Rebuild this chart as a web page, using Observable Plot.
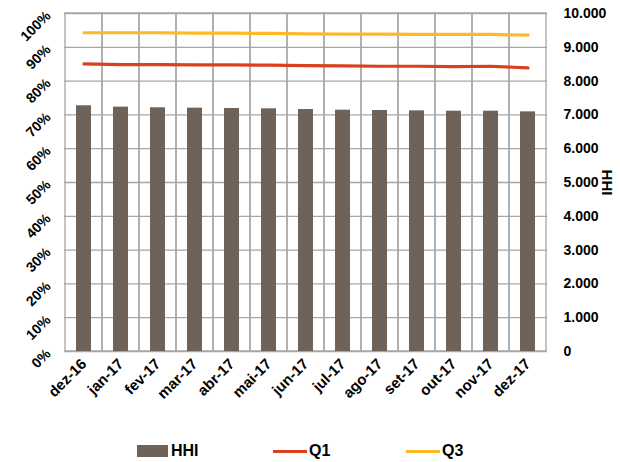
<!DOCTYPE html>
<html>
<head>
<meta charset="utf-8">
<script src="https://cdn.jsdelivr.net/npm/d3@7"></script>
<script src="https://cdn.jsdelivr.net/npm/@observablehq/plot@0.6"></script>
<style>
  body { margin: 0; background: #fff; font-family: "Liberation Sans", Arial, sans-serif; }
  #chart { width: 620px; height: 462px; position: relative; }
  .legend { position: absolute; top: 440px; left: 0; width: 620px; height: 22px; font-weight: bold; font-size: 16px; color: #000; }
  .legend .item { position: absolute; top: 0; display: flex; align-items: center; height: 22px; }
  .legend .sw { display: inline-block; margin-right: 3px; }
</style>
</head>
<body>
<div id="chart"></div>
<script>
const months = ["dez-16","jan-17","fev-17","mar-17","abr-17","mai-17","jun-17","jul-17","ago-17","set-17","out-17","nov-17","dez-17"];
const hhi = [7270, 7230, 7210, 7200, 7190, 7180, 7160, 7140, 7130, 7120, 7110, 7110, 7090];
const q1 = [85.1, 84.9, 84.9, 84.8, 84.8, 84.7, 84.6, 84.5, 84.4, 84.4, 84.3, 84.4, 83.9];
const q3 = [94.3, 94.3, 94.3, 94.2, 94.2, 94.1, 94.0, 93.9, 93.9, 93.8, 93.8, 93.8, 93.6];
const pctTicks = [0,10,20,30,40,50,60,70,80,90,100];
const hhiTicks = [0,1000,2000,3000,4000,5000,6000,7000,8000,9000,10000];

const colors = { HHI: "#6e6259", Q1: "#d9411e", Q3: "#fdb927" };
const gridColor = "#a6a6a6";

const rows = months.map((m, i) => ({ m, hhi: hhi[i], q1: q1[i], q3: q3[i] }));
const fmtHHI = d => d3.format(",")(d).replace(/,/g, ".");

const plot = Plot.plot({
  width: 620,
  height: 440,
  marginLeft: 64,
  marginRight: 73,
  marginTop: 13,
  marginBottom: 89,
  style: { fontFamily: "'Liberation Sans', Arial, sans-serif", fontWeight: "bold", fontSize: "14px", color: "#000" },
  x: { domain: months, padding: 0 },
  y: { domain: [0, 100] },
  marks: [
    Plot.ruleY(pctTicks, { stroke: gridColor, strokeWidth: 1.3 }),
    Plot.barY(months, { x: d => d, y1: 0, y2: 100, fill: "none", stroke: gridColor, strokeWidth: 1.3 }),
    Plot.barY(rows, { x: "m", y: d => d.hhi / 100, fill: colors.HHI, insetLeft: 11, insetRight: 11 }),
    Plot.lineY(rows, { x: "m", y: "q1", stroke: colors.Q1, strokeWidth: 3.2, strokeLinecap: "round" }),
    Plot.lineY(rows, { x: "m", y: "q3", stroke: colors.Q3, strokeWidth: 3.2, strokeLinecap: "round" }),
    Plot.axisY(pctTicks, { anchor: "left", tickSize: 0, tickPadding: 16, tickRotate: -45, tickFormat: d => d + "%", label: null, fontSize: 14 }),
    Plot.axisY(hhiTicks.map(d => d / 100), { anchor: "right", tickSize: 0, tickPadding: 16, tickFormat: d => fmtHHI(d * 100), label: null, fontSize: 14 }),
    Plot.axisX({ tickSize: 0, tickPadding: 10, tickRotate: -45, label: null, fontSize: 15 }),
    Plot.text(["HHI"], { frameAnchor: "right", dx: 59, dy: 0, rotate: 90, textAnchor: "middle", fontSize: 15, fontWeight: "bold", fill: "#000" })
  ]
});
document.getElementById("chart").appendChild(plot);

const legend = document.createElement("div");
legend.className = "legend";
const items = [
  { name: "HHI", left: 137, type: "rect" },
  { name: "Q1", left: 273, type: "line" },
  { name: "Q3", left: 406, type: "line" }
];
for (const it of items) {
  const d = document.createElement("div");
  d.className = "item";
  d.style.left = it.left + "px";
  const sw = document.createElement("span");
  sw.className = "sw";
  if (it.type === "rect") {
    sw.style.width = "31px"; sw.style.height = "12px"; sw.style.background = colors[it.name];
  } else {
    sw.style.width = "34px"; sw.style.height = "3px"; sw.style.background = colors[it.name]; sw.style.marginRight = "2px";
  }
  d.appendChild(sw);
  const t = document.createElement("span");
  t.textContent = it.name;
  d.appendChild(t);
  legend.appendChild(d);
}
document.getElementById("chart").appendChild(legend);
</script>
</body>
</html>
